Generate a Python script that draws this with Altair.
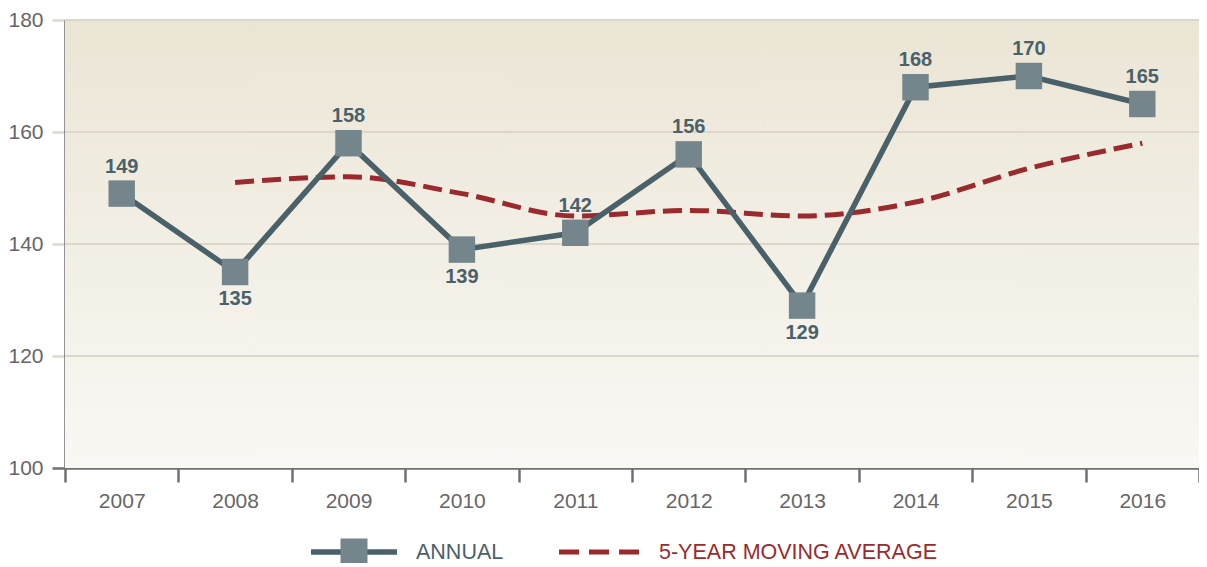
import altair as alt
import pandas as pd

years = ["2007", "2008", "2009", "2010", "2011", "2012", "2013", "2014", "2015", "2016"]
annual = [149, 135, 158, 139, 142, 156, 129, 168, 170, 165]
ma_years = ["2008", "2009", "2010", "2011", "2012", "2013", "2014", "2015", "2016"]
ma_values = [151, 152, 149, 145, 146, 145, 147.5, 153.5, 158]
label_side = ["above", "below", "above", "below", "above", "above", "below", "above", "above", "above"]
y_ticks = [100, 120, 140, 160, 180]
grid_ticks = [120, 140, 160, 180]
legend_labels = ["ANNUAL", "5-YEAR MOVING AVERAGE"]

W, H = 1134, 448
SLATE = "#4b616a"
SQUARE = "#74858c"
RED = "#9b2a2e"
AXIS = "#707070"
NARROW = "Liberation Sans, Arial, sans-serif"
BOLD = "Liberation Sans, Arial, sans-serif"

df = pd.DataFrame({"year": years, "value": annual, "side": label_side})
ma = pd.DataFrame({"year": ma_years, "value": ma_values})
grid = pd.DataFrame({"v": grid_ticks})
one = pd.DataFrame({"a": [legend_labels[0]], "b": [legend_labels[1]]})

xscale = alt.Scale(type="band", domain=years, paddingInner=0, paddingOuter=0)
yscale = alt.Scale(domain=[100, 180], nice=False, zero=False)

X = alt.X("year:N", scale=xscale, sort=years, title=None,
          axis=alt.Axis(tickBand="extent", domainColor=AXIS, domainWidth=2.5,
                        tickColor=AXIS, tickWidth=2.5, tickSize=14,
                        labelFont=NARROW, labelFontSize=21, labelColor="#666666",
                        labelPadding=8, labelAngle=0, grid=False))
Y = alt.Y("value:Q", scale=yscale, title=None,
          axis=alt.Axis(values=y_ticks, domainColor=AXIS, domainWidth=2.5,
                        tickColor={"condition": {"test": "datum.value == 100", "value": AXIS}, "value": "#dcd8cf"},
                        tickWidth=2.5, tickSize=13, labelFont=NARROW, labelFontSize=21,
                        labelColor="#666666", labelPadding=9, grid=False))

bg = alt.Chart(one).mark_rect(
    color=alt.Gradient(gradient="linear",
                       stops=[alt.GradientStop(color="#ebe5d5", offset=0),
                              alt.GradientStop(color="#f9f8f4", offset=1)],
                       x1=0, x2=0, y1=0, y2=1)
).encode(x=alt.value(0), x2=alt.value(W), y=alt.value(0), y2=alt.value(H))

rules = alt.Chart(grid).mark_rule(color="#dcd7cb", strokeWidth=2).encode(
    y=alt.Y("v:Q", scale=yscale), x=alt.value(0), x2=alt.value(W))

ma_line = alt.Chart(ma).mark_line(color=RED, strokeWidth=5, strokeDash=[19, 8],
                                  interpolate="monotone").encode(x=X, y=Y)

ann_line = alt.Chart(df).mark_line(color=SLATE, strokeWidth=5.5).encode(x=X, y=Y)
ann_pts = alt.Chart(df).mark_square(size=700, color=SQUARE, opacity=1).encode(x=X, y=Y)

lab_up = alt.Chart(df).transform_filter("datum.side == 'above'").mark_text(
    dy=-27, font=BOLD, fontWeight="bold", fontSize=20, color=SLATE
).encode(x=X, y=Y, text="value:Q")
lab_dn = alt.Chart(df).transform_filter("datum.side == 'below'").mark_text(
    dy=27, font=BOLD, fontWeight="bold", fontSize=20, color=SLATE
).encode(x=X, y=Y, text="value:Q")

LY = 532
leg1_line = alt.Chart(one).mark_rule(color=SLATE, strokeWidth=5.5).encode(
    x=alt.value(246), x2=alt.value(332), y=alt.value(LY))
leg1_sq = alt.Chart(one).mark_square(size=729, color=SQUARE, opacity=1).encode(
    x=alt.value(289), y=alt.value(LY))
leg1_txt = alt.Chart(one).mark_text(align="left", baseline="middle", font=NARROW,
                                    fontSize=21.5, color=SLATE).encode(
    x=alt.value(351), y=alt.value(LY + 1), text="a:N")
leg2_line = alt.Chart(one).mark_rule(color=RED, strokeWidth=5, strokeDash=[20, 10]).encode(
    x=alt.value(494), x2=alt.value(574), y=alt.value(LY))
leg2_txt = alt.Chart(one).mark_text(align="left", baseline="middle", font=NARROW,
                                    fontSize=21.5, color=RED).encode(
    x=alt.value(594), y=alt.value(LY + 1), text="b:N")

chart = alt.layer(
    bg, rules, ma_line, ann_line, ann_pts, lab_up, lab_dn,
    leg1_line, leg1_sq, leg1_txt, leg2_line, leg2_txt
).properties(
    width=W, height=H,
    autosize=alt.AutoSizeParams(type="none"),
    padding={"left": 57, "top": 12, "right": 0, "bottom": 95},
).configure_view(stroke=None)

chart.save("out.html", embed_options={"renderer": "svg", "actions": False})
